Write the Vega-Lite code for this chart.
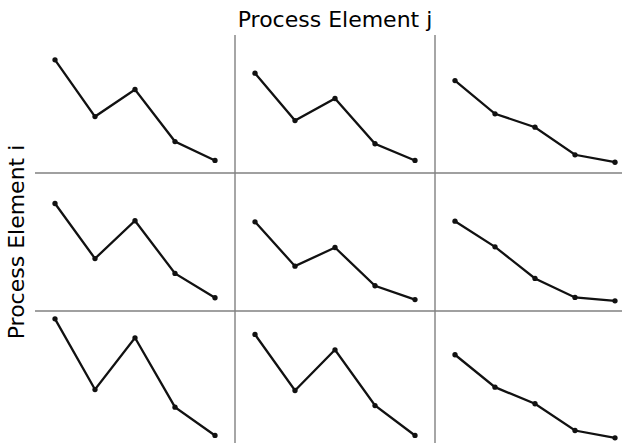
{
  "$schema": "https://vega.github.io/schema/vega-lite/v6.json",
  "padding": {"left": 5, "top": 9, "right": 0, "bottom": 0},
  "background": "white",
  "bounds": "flush",
  "data": {"values": [
    {"i": 1, "j": 1, "step": 1, "value": 82.0}, {"i": 1, "j": 1, "step": 2, "value": 40.9}, {"i": 1, "j": 1, "step": 3, "value": 60.5}, {"i": 1, "j": 1, "step": 4, "value": 22.8}, {"i": 1, "j": 1, "step": 5, "value": 9.1},
    {"i": 1, "j": 2, "step": 1, "value": 72.3}, {"i": 1, "j": 2, "step": 2, "value": 38.0}, {"i": 1, "j": 2, "step": 3, "value": 54.0}, {"i": 1, "j": 2, "step": 4, "value": 21.2}, {"i": 1, "j": 2, "step": 5, "value": 9.1},
    {"i": 1, "j": 3, "step": 1, "value": 67.0}, {"i": 1, "j": 3, "step": 2, "value": 42.9}, {"i": 1, "j": 3, "step": 3, "value": 33.2}, {"i": 1, "j": 3, "step": 4, "value": 13.2}, {"i": 1, "j": 3, "step": 5, "value": 7.8},
    {"i": 2, "j": 1, "step": 1, "value": 77.9}, {"i": 2, "j": 1, "step": 2, "value": 38.0}, {"i": 2, "j": 1, "step": 3, "value": 65.4}, {"i": 2, "j": 1, "step": 4, "value": 27.2}, {"i": 2, "j": 1, "step": 5, "value": 9.6},
    {"i": 2, "j": 2, "step": 1, "value": 64.6}, {"i": 2, "j": 2, "step": 2, "value": 32.5}, {"i": 2, "j": 2, "step": 3, "value": 46.0}, {"i": 2, "j": 2, "step": 4, "value": 18.3}, {"i": 2, "j": 2, "step": 5, "value": 8.3},
    {"i": 2, "j": 3, "step": 1, "value": 65.1}, {"i": 2, "j": 3, "step": 2, "value": 46.5}, {"i": 2, "j": 3, "step": 3, "value": 23.6}, {"i": 2, "j": 3, "step": 4, "value": 9.8}, {"i": 2, "j": 3, "step": 5, "value": 7.4},
    {"i": 3, "j": 1, "step": 1, "value": 94.3}, {"i": 3, "j": 1, "step": 2, "value": 43.1}, {"i": 3, "j": 1, "step": 3, "value": 80.6}, {"i": 3, "j": 1, "step": 4, "value": 30.3}, {"i": 3, "j": 1, "step": 5, "value": 9.8},
    {"i": 3, "j": 2, "step": 1, "value": 83.0}, {"i": 3, "j": 2, "step": 2, "value": 42.4}, {"i": 3, "j": 2, "step": 3, "value": 71.9}, {"i": 3, "j": 2, "step": 4, "value": 31.5}, {"i": 3, "j": 2, "step": 5, "value": 9.8},
    {"i": 3, "j": 3, "step": 1, "value": 68.3}, {"i": 3, "j": 3, "step": 2, "value": 44.8}, {"i": 3, "j": 3, "step": 3, "value": 32.8}, {"i": 3, "j": 3, "step": 4, "value": 13.4}, {"i": 3, "j": 3, "step": 5, "value": 8.1}
  ]},
  "facet": {
    "row": {"field": "i", "type": "ordinal", "header": {"title": "Process Element i", "labels": false, "labelPadding": 0, "titleFont": "DejaVu Sans", "titleFontSize": 22, "titleFontWeight": "normal", "titleColor": "black", "titlePadding": -4}},
    "column": {"field": "j", "type": "ordinal", "header": {"title": "Process Element j", "labels": false, "labelPadding": 0, "titleFont": "DejaVu Sans", "titleFontSize": 22, "titleFontWeight": "normal", "titleColor": "black", "titlePadding": -7}}
  },
  "spacing": 0,
  "spec": {
    "width": 200,
    "height": 138,
    "encoding": {
      "x": {"field": "step", "type": "quantitative", "scale": {"domain": [0.5, 5.5]}, "axis": null},
      "y": {"field": "value", "type": "quantitative", "scale": {"domain": [0, 100]}, "axis": null}
    },
    "layer": [
      {"transform": [{"filter": "datum.step == 1"}], "mark": {"type": "rule", "color": "#808080", "strokeWidth": 1.4}, "encoding": {"x": {"datum": 5.5}, "y": null}},
      {"transform": [{"filter": "datum.step == 1"}], "mark": {"type": "rule", "color": "#808080", "strokeWidth": 1.4}, "encoding": {"y": {"datum": 0}, "x": null}},
      {"mark": {"type": "line", "color": "#111111", "strokeWidth": 2.3}},
      {"mark": {"type": "point", "filled": true, "color": "#111111", "size": 28, "opacity": 1}}
    ]
  },
  "config": {"view": {"stroke": null}}
}
